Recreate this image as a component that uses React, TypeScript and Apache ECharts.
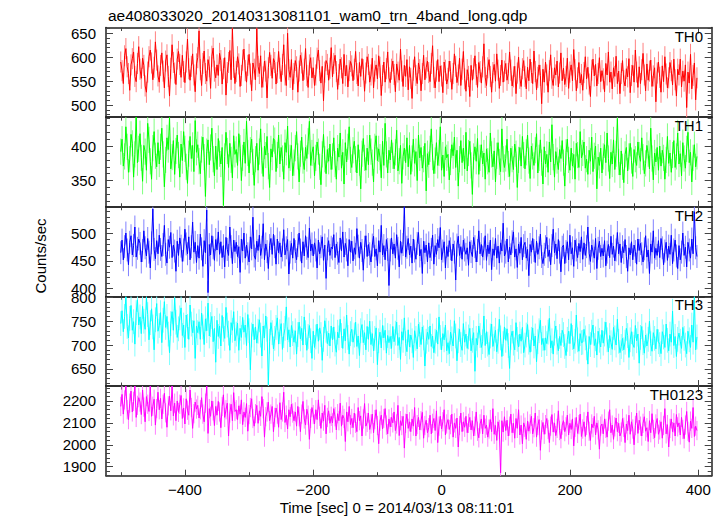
import React, { useEffect, useRef } from "react";
import * as echarts from "echarts";

// ---- text ----
const TITLE = "ae408033020_20140313081101_wam0_trn_4band_long.qdp";
const X_TITLE = "Time [sec] 0 = 2014/03/13 08:11:01";
const Y_TITLE = "Counts/sec";

// ---- time bins ----
const T_START = -500; // first bin time (sec)
const BIN = 2; // bin width (sec)

// ---- x axis ----
const X_MIN = -523;
const X_MAX = 421;
const X_MAJOR = [-400, -200, 0, 200, 400];
const X_MINOR = [-500, -300, -100, 100, 300];

// ---- panels ----
const PANEL_NAMES = ["TH0", "TH1", "TH2", "TH3", "TH0123"];
const PANEL_COLORS = ["#ff0000", "#00ff00", "#0000ff", "#00ffff", "#ff00ff"];
const PANEL_ERR_COLORS = ["#ff8080", "#80ff80", "#8080ff", "#80ffff", "#ff80ff"];
const PANEL_ERR = [22, 19, 21, 26, 44]; // typical 1-sigma error per bin (counts/sec)
const Y_MIN = [475, 312, 385, 614, 1859];
const Y_MAX = [662, 442, 549, 802, 2268];
const Y_MAJOR = [
  [500, 550, 600, 650],
  [350, 400],
  [400, 450, 500],
  [650, 700, 750, 800],
  [1900, 2000, 2100, 2200],
];
const Y_MINOR_STEP = [10, 10, 10, 10, 20];

// ---- count rates (counts/sec), one value per 2 s bin, 15 bins (30 s) per row ----
const TH0 = [
  590, 572, 545, 603, 618, 580, 566, 531, 584, 597, 611, 560, 549, 587, 622,
  575, 556, 598, 583, 540, 527, 569, 601, 615, 588, 553, 579, 632, 594, 561,
  548, 583, 609, 571, 536, 592, 605, 560, 519, 577, 626, 589, 567, 543, 596,
  612, 585, 558, 604, 570, 547, 590, 638, 576, 552, 581, 607, 563, 528, 586,
  599, 655, 574, 541, 587, 613, 566, 550, 595, 580, 535, 602, 619, 571, 557,
  584, 562, 608, 593, 544, 576, 599, 521, 568, 589, 614, 553, 660, 579, 545,
  570, 601, 586, 539, 562, 594, 617, 572, 548, 583, 606, 565, 530, 588, 575,
  553, 660, 581, 566, 603, 537, 559, 592, 571, 515, 578, 610, 583, 556, 597,
  589, 544, 568, 612, 577, 549, 585, 626, 563, 541, 650, 574, 558, 595, 532,
  566, 593, 580, 527, 571, 604, 588, 551, 575, 618, 562, 537, 584, 599, 557,
  578, 541, 563, 598, 615, 572, 546, 581, 509, 569, 593, 585, 552, 577, 620,
  559, 587, 604, 570, 533, 564, 596, 578, 545, 606, 561, 583, 538, 572, 591,
  582, 551, 575, 612, 566, 540, 589, 560, 597, 574, 529, 567, 601, 585, 548,
  563, 598, 536, 571, 584, 555, 603, 579, 520, 562, 590, 548, 576, 611, 557,
  547, 575, 592, 564, 528, 586, 569, 552, 617, 571, 539, 583, 560, 595, 532,
  580, 556, 514, 573, 601, 562, 545, 588, 574, 530, 566, 604, 553, 578, 592,
  568, 549, 587, 624, 558, 536, 571, 595, 549, 582, 561, 526, 590, 573, 544,
  556, 592, 570, 533, 566, 607, 581, 547, 563, 598, 541, 575, 612, 555, 529,
  574, 560, 518, 583, 552, 576, 603, 564, 537, 589, 570, 546, 580, 628, 558,
  541, 578, 595, 560, 527, 568, 585, 550, 607, 573, 535, 562, 594, 548, 571,
  587, 552, 566, 611, 573, 540, 559, 581, 524, 567, 600, 556, 539, 576, 593,
  560, 534, 579, 551, 596, 568, 545, 613, 570, 532, 558, 584, 562, 503, 575,
  548, 590, 563, 527, 572, 605, 556, 541, 578, 563, 592, 538, 567, 609, 551,
  577, 543, 560, 598, 535, 569, 584, 551, 616, 574, 530, 557, 589, 546, 564,
  531, 568, 601, 555, 579, 544, 518, 573, 596, 561, 585, 540, 566, 599, 549,
  572, 555, 528, 587, 563, 611, 548, 569, 534, 578, 560, 602, 545, 571, 524,
  566, 593, 551, 540, 576, 559, 597, 526, 562, 583, 548, 615, 569, 537, 580,
  545, 574, 608, 563, 530, 586, 552, 571, 594, 539, 561, 578, 507, 567, 590,
  558, 527, 582, 549, 601, 565, 536, 557, 589, 572, 542, 596, 553, 519, 575,
  563, 596, 538, 571, 550, 584, 495, 569, 546, 606, 534, 562, 588, 511, 557,
];
const TH1 = [
  392, 410, 371, 385, 428, 399, 362, 381, 417, 404, 355, 388, 442, 376, 396,
  418, 383, 349, 401, 392, 365, 433, 409, 378, 352, 397, 421, 386, 370, 405,
  374, 399, 426, 388, 341, 380, 412, 395, 442, 367, 384, 408, 359, 393, 416,
  387, 355, 403, 379, 421, 396, 370, 346, 389, 414, 382, 401, 363, 437, 391,
  402, 378, 360, 395, 413, 384, 327, 392, 409, 373, 398, 426, 381, 357, 400,
  366, 411, 389, 374, 398, 314, 385, 420, 393, 369, 404, 380, 354, 415, 388,
  395, 372, 418, 397, 350, 383, 406, 375, 436, 390, 361, 394, 410, 377, 343,
  381, 404, 365, 392, 425, 379, 356, 400, 387, 414, 371, 340, 396, 384, 411,
  408, 363, 387, 416, 374, 398, 382, 352, 405, 391, 429, 368, 383, 401, 357,
  376, 397, 421, 385, 348, 389, 413, 379, 366, 398, 382, 407, 436, 372, 390,
  399, 357, 383, 406, 392, 370, 344, 388, 417, 381, 360, 395, 378, 403, 366,
  385, 412, 374, 352, 397, 384, 419, 368, 391, 345, 405, 377, 399, 428, 380,
  369, 394, 407, 381, 361, 402, 376, 338, 389, 411, 383, 365, 397, 373, 416,
  392, 376, 348, 399, 415, 379, 396, 384, 354, 407, 372, 433, 388, 361, 394,
  380, 409, 386, 367, 391, 423, 364, 378, 401, 346, 385, 397, 376, 412, 370,
  401, 359, 382, 410, 375, 392, 350, 416, 383, 398, 368, 381, 404, 335, 389,
  373, 396, 425, 384, 360, 379, 405, 372, 390, 428, 365, 387, 356, 399, 383,
  388, 351, 377, 402, 386, 413, 369, 394, 342, 381, 408, 376, 397, 367, 420,
  364, 390, 407, 372, 330, 385, 399, 378, 411, 359, 383, 402, 374, 390, 352,
  396, 378, 362, 419, 388, 370, 393, 348, 386, 405, 377, 363, 425, 381, 369,
  382, 410, 374, 356, 397, 381, 366, 403, 389, 340, 380, 398, 371, 414, 387,
  367, 391, 416, 379, 353, 400, 385, 372, 394, 418, 361, 383, 409, 376, 345,
  399, 374, 388, 362, 406, 377, 431, 384, 355, 392, 379, 366, 395, 382, 408,
  376, 342, 391, 410, 380, 365, 397, 371, 388, 352, 404, 387, 369, 421, 383,
  390, 406, 368, 381, 359, 394, 378, 413, 363, 386, 400, 338, 384, 372, 397,
  361, 385, 402, 376, 419, 382, 353, 391, 374, 409, 366, 389, 440, 377, 358,
  393, 370, 347, 388, 398, 364, 385, 404, 379, 356, 395, 381, 372, 406, 387,
  378, 412, 384, 360, 375, 401, 389, 367, 426, 382, 351, 390, 377, 398, 365,
  400, 371, 394, 383, 352, 380, 414, 375, 390, 362, 387, 408, 369, 385, 419,
  374, 389, 357, 405, 382, 368, 396, 420, 376, 391, 348, 383, 402, 370, 385,
];
const TH2 = [
  465, 488, 452, 476, 501, 470, 443, 484, 496, 461, 478, 512, 457, 473, 490,
  482, 448, 469, 505, 474, 459, 491, 466, 437, 483, 545, 471, 454, 487, 463,
  497, 471, 458, 480, 515, 462, 446, 489, 475, 502, 456, 479, 468, 431, 486,
  460, 492, 477, 449, 470, 508, 481, 463, 494, 452, 476, 521, 466, 484, 447,
  478, 455, 499, 472, 440, 487, 465, 543, 392, 480, 461, 496, 474, 451, 489,
  470, 503, 462, 485, 456, 478, 439, 493, 471, 460, 512, 476, 445, 488, 467,
  484, 458, 476, 429, 490, 468, 501, 455, 479, 463, 448, 494, 472, 530, 459,
  453, 486, 469, 497, 460, 475, 518, 452, 481, 467, 436, 478, 491, 462, 499,
  476, 444, 490, 465, 483, 457, 470, 507, 461, 474, 489, 426, 466, 482, 455,
  491, 467, 452, 478, 501, 470, 446, 485, 459, 496, 473, 456, 510, 468, 481,
  459, 483, 470, 437, 488, 463, 476, 494, 451, 479, 418, 472, 487, 460, 475,
  472, 498, 456, 481, 464, 447, 492, 468, 503, 457, 482, 470, 441, 489, 466,
  486, 450, 474, 462, 509, 477, 455, 484, 469, 433, 475, 496, 458, 480, 463,
  448, 479, 495, 458, 472, 441, 487, 466, 515, 461, 478, 452, 489, 471, 405,
  470, 492, 463, 481, 455, 498, 473, 439, 486, 464, 480, 549, 457, 475, 491,
  461, 477, 446, 490, 468, 453, 482, 502, 459, 471, 427, 486, 465, 479, 448,
  483, 456, 471, 497, 444, 478, 462, 489, 474, 511, 452, 468, 485, 437, 476,
  458, 487, 472, 450, 481, 466, 415, 479, 495, 460, 476, 453, 488, 470, 462,
  474, 442, 485, 467, 458, 493, 476, 448, 469, 505, 463, 480, 457, 472, 496,
  451, 479, 463, 488, 434, 472, 460, 491, 455, 477, 446, 483, 468, 519, 459,
  466, 490, 448, 475, 461, 485, 503, 457, 472, 438, 481, 464, 493, 452, 478,
  484, 455, 471, 423, 480, 466, 491, 469, 447, 486, 462, 474, 499, 458, 445,
  462, 476, 493, 458, 470, 443, 478, 508, 465, 481, 454, 489, 466, 430, 475,
  479, 445, 467, 485, 452, 497, 463, 474, 440, 488, 470, 456, 482, 467, 494,
  453, 483, 460, 476, 512, 464, 449, 479, 468, 455, 491, 436, 473, 486, 458,
  473, 459, 487, 441, 466, 480, 456, 495, 462, 477, 450, 470, 502, 463, 481,
  447, 476, 465, 489, 458, 431, 474, 461, 485, 452, 479, 467, 444, 490, 469,
  482, 463, 448, 472, 496, 457, 470, 427, 481, 466, 505, 455, 473, 460, 487,
  456, 491, 474, 443, 468, 484, 451, 477, 462, 497, 445, 470, 488, 459, 436,
  478, 452, 466, 501, 460, 475, 439, 484, 470, 455, 490, 463, 540, 474, 458,
];
const TH3 = [
  745, 772, 728, 760, 801, 739, 715, 756, 783, 731, 749, 702, 768, 795, 742,
  759, 724, 781, 750, 733, 800, 764, 711, 747, 776, 738, 690, 753, 787, 729,
  741, 768, 705, 752, 791, 737, 760, 723, 684, 745, 770, 731, 799, 748, 716,
  734, 757, 778, 720, 742, 695, 763, 739, 712, 784, 744, 726, 751, 672, 740,
  726, 749, 712, 767, 738, 701, 755, 730, 788, 719, 743, 760, 707, 735, 664,
  752, 718, 740, 698, 762, 733, 714, 779, 742, 725, 689, 747, 731, 770, 709,
  723, 746, 689, 735, 716, 758, 727, 742, 699, 764, 730, 648, 721, 744, 711,
  738, 704, 729, 753, 721, 677, 740, 715, 761, 733, 617, 708, 747, 726, 692,
  714, 737, 757, 702, 728, 745, 691, 720, 735, 780, 711, 732, 696, 741, 724,
  706, 730, 681, 722, 748, 713, 735, 700, 759, 726, 689, 718, 741, 709, 672,
  729, 695, 717, 744, 708, 736, 722, 668, 712, 751, 731, 703, 725, 698, 740,
  711, 738, 702, 685, 727, 715, 754, 720, 693, 734, 709, 763, 716, 681, 724,
  733, 706, 721, 748, 697, 719, 678, 730, 743, 705, 726, 690, 739, 712, 750,
  701, 724, 688, 714, 736, 659, 709, 727, 694, 741, 715, 731, 683, 720, 705,
  718, 693, 739, 707, 725, 748, 699, 716, 670, 728, 710, 757, 703, 686, 732,
  696, 721, 709, 674, 730, 714, 692, 744, 722, 701, 738, 715, 656, 708, 727,
  712, 740, 697, 719, 684, 708, 731, 702, 759, 716, 690, 724, 711, 742, 688,
  705, 682, 727, 713, 698, 751, 719, 667, 709, 733, 701, 689, 745, 706, 723,
  693, 717, 735, 688, 710, 726, 645, 714, 700, 740, 720, 695, 707, 761, 699,
  728, 702, 680, 719, 744, 697, 713, 731, 686, 708, 754, 715, 676, 703, 738,
  710, 734, 699, 651, 716, 729, 704, 690, 747, 712, 696, 723, 708, 737, 684,
  700, 721, 743, 706, 685, 712, 736, 698, 719, 665, 707, 730, 752, 701, 714,
  689, 715, 703, 727, 756, 694, 709, 681, 725, 740, 706, 688, 718, 699, 731,
  722, 697, 678, 712, 729, 703, 745, 716, 692, 708, 763, 711, 687, 724, 705,
  706, 733, 715, 694, 660, 718, 701, 727, 742, 699, 713, 679, 729, 710, 696,
  731, 704, 723, 748, 711, 686, 720, 705, 691, 737, 715, 700, 754, 708, 684,
  697, 714, 690, 706, 735, 720, 674, 711, 728, 702, 695, 741, 709, 723, 662,
  716, 739, 705, 683, 721, 698, 712, 750, 703, 687, 726, 714, 692, 733, 707,
  701, 682, 728, 717, 695, 744, 710, 688, 723, 706, 771, 699, 718, 676, 712,
  725, 708, 693, 737, 714, 700, 682, 729, 711, 695, 742, 706, 800, 690, 717,
];
const TH0123 = [
  2175, 2230, 2140, 2205, 2268, 2160, 2115, 2190, 2245, 2150, 2198, 2268, 2125, 2180, 2215,
  2195, 2138, 2250, 2172, 2105, 2220, 2185, 2152, 2268, 2130, 2176, 2208, 2090, 2165, 2240,
  2160, 2212, 2118, 2185, 2235, 2146, 2080, 2178, 2222, 2155, 2268, 2132, 2190, 2110, 2200,
  2148, 2185, 2225, 2120, 2168, 2095, 2210, 2158, 2135, 2250, 2170, 2075, 2142, 2195, 2163,
  2180, 2122, 2160, 2215, 2140, 2105, 2190, 2268, 2052, 2165, 2130, 2200, 2155, 2088, 2175,
  2135, 2198, 2150, 2078, 2175, 2228, 2125, 2160, 2190, 2040, 2145, 2185, 2110, 2238, 2152,
  2160, 2115, 2178, 2140, 2205, 2092, 2150, 2125, 2188, 2062, 2138, 2170, 2210, 2120, 2085,
  2142, 2180, 2098, 2155, 2130, 2220, 2165, 2035, 2128, 2150, 2195, 2110, 2140, 2175, 2060,
  2125, 2168, 2140, 2080, 2192, 2115, 2150, 2240, 2102, 2135, 2072, 2160, 2128, 2185, 2145,
  2110, 2150, 2085, 2175, 2128, 2060, 2140, 2198, 2118, 2090, 2162, 2135, 2025, 2120, 2170,
  2138, 2095, 2160, 2115, 2205, 2130, 2075, 2145, 2108, 2180, 2050, 2125, 2155, 2098, 2130,
  2100, 2165, 2128, 2068, 2142, 2110, 2190, 2085, 2135, 2120, 2015, 2150, 2105, 2175, 2092,
  2120, 2078, 2145, 2098, 2060, 2170, 2110, 2132, 2040, 2118, 2188, 2085, 2102, 2145, 2070,
  2095, 2140, 2055, 2115, 2160, 2088, 2005, 2108, 2135, 2072, 2120, 2165, 2090, 2050, 2118,
  2082, 2125, 2100, 2150, 2065, 2095, 2180, 2042, 2110, 2088, 2130, 1985, 2098, 2140, 2075,
  2105, 2060, 2118, 2085, 2170, 2040, 2092, 2125, 2068, 2110, 2148, 2030, 2088, 2112, 2055,
  2078, 2135, 2050, 2098, 2120, 2065, 2155, 2010, 2085, 2130, 2072, 2105, 2160, 2045, 2095,
  2115, 2070, 2092, 2140, 2035, 2100, 2075, 2122, 1990, 2088, 2145, 2060, 2105, 2080, 2130,
  2055, 2098, 2125, 2068, 2110, 2040, 2085, 2150, 2062, 2032, 2095, 2118, 2050, 2135, 2075,
  2090, 2035, 2072, 2115, 2060, 2165, 2048, 2088, 2020, 2105, 2070, 1872, 2110, 2058, 2128,
  2065, 2112, 2040, 2085, 2140, 2055, 2098, 2030, 2120, 2075, 2160, 2045, 2090, 2005, 2100,
  2080, 2025, 2108, 2062, 2095, 2130, 2050, 2078, 2145, 2035, 2088, 2115, 1975, 2068, 2102,
  2048, 2092, 2120, 2070, 2010, 2085, 2138, 2058, 2100, 2042, 2075, 2155, 2065, 2028, 2090,
  2110, 2060, 2082, 2135, 2045, 2098, 2070, 2118, 1995, 2080, 2125, 2052, 2092, 2140, 2038,
  2072, 2105, 2038, 2088, 2150, 2062, 2020, 2095, 2078, 2130, 2045, 2100, 2068, 1980, 2085,
  2095, 2050, 2118, 2075, 2035, 2108, 2160, 2055, 2090, 2025, 2082, 2122, 2060, 2098, 2040,
  2058, 2120, 2080, 2010, 2095, 2065, 2135, 2048, 2105, 2072, 2000, 2088, 2145, 2052, 2112,
  2085, 2040, 2098, 2128, 2062, 2078, 2015, 2110, 2055, 2142, 2070, 2032, 2095, 2120, 2048,
  2068, 2105, 2030, 2088, 2165, 2050, 2092, 1990, 2075, 2118, 2060, 2100, 2040, 2138, 2082,
  2100, 2045, 2125, 2070, 2028, 2090, 2152, 2062, 2012, 2108, 2075, 2170, 2038, 2085, 2065,
];
const PANEL_DATA = [TH0, TH1, TH2, TH3, TH0123];

const FONT = "'Liberation Sans', Arial, Helvetica, sans-serif";

function minorTicks(min: number, max: number, step: number, majors: number[]) {
  const out: number[] = [];
  for (let v = Math.ceil(min / step) * step; v <= max; v += step) {
    if (!majors.includes(v)) out.push(v);
  }
  return out;
}

function buildOption() {
  const GRID_TOP = 27.5;
  const GRID_H = 89.64;
  const LEFT = 106;
  const RIGHT = 12.3;
  const axisColor = "#222";
  const tickColor = "#444";

  const grids: any[] = [];
  const xAxes: any[] = [];
  const yAxes: any[] = [];
  const series: any[] = [];
  const graphics: any[] = [];

  const xAxis = (gi: number, pos: string, ticks: number[], len: number, line: boolean, labels: boolean) => ({
    type: "value",
    gridIndex: gi,
    position: pos,
    min: X_MIN,
    max: X_MAX,
    axisLine: { show: line, onZero: false, lineStyle: { color: axisColor, width: 1.5 } },
    axisTick: { show: true, inside: true, length: len, customValues: ticks, lineStyle: { color: tickColor, width: 1 } },
    axisLabel: {
      show: labels,
      customValues: ticks,
      margin: 6,
      color: "#000",
      fontSize: 15,
      fontFamily: FONT,
      formatter: (v: number) => String(v).replace("-", "\u2212"),
    },
    splitLine: { show: false },
  });

  const yAxis = (gi: number, pos: string, ticks: number[], len: number, line: boolean, labels: boolean) => ({
    type: "value",
    gridIndex: gi,
    position: pos,
    min: Y_MIN[gi],
    max: Y_MAX[gi],
    axisLine: { show: line, onZero: false, lineStyle: { color: axisColor, width: 1.5 } },
    axisTick: { show: true, inside: true, length: len, customValues: ticks, lineStyle: { color: tickColor, width: 1 } },
    axisLabel: {
      show: labels,
      customValues: ticks,
      margin: 10,
      color: "#000",
      fontSize: 15,
      fontFamily: FONT,
      formatter: (v: number) => String(v),
    },
    splitLine: { show: false },
  });

  PANEL_NAMES.forEach((name, i) => {
    const top = GRID_TOP + i * GRID_H;
    grids.push({ left: LEFT, right: RIGHT, top, height: GRID_H, outerBoundsMode: "none", containLabel: false });

    const last = i === PANEL_NAMES.length - 1;
    xAxes.push(xAxis(i, "bottom", X_MAJOR, 6, true, last));
    xAxes.push(xAxis(i, "bottom", X_MINOR, 3.5, false, false));
    xAxes.push(xAxis(i, "top", X_MAJOR, 6, true, false));
    xAxes.push(xAxis(i, "top", X_MINOR, 3.5, false, false));

    const majors = Y_MAJOR[i];
    const minors = minorTicks(Y_MIN[i], Y_MAX[i], Y_MINOR_STEP[i], majors);
    yAxes.push(yAxis(i, "left", majors, 7, true, true));
    yAxes.push(yAxis(i, "left", minors, 4, false, false));
    yAxes.push(yAxis(i, "right", majors, 7, true, false));
    yAxes.push(yAxis(i, "right", minors, 4, false, false));

    const data = PANEL_DATA[i].map((v, k) => [T_START + k * BIN, v]);
    const err = PANEL_ERR[i];
    const errColor = PANEL_ERR_COLORS[i];
    // error bars (lighter shade)
    series.push({
      type: "custom",
      xAxisIndex: i * 4,
      yAxisIndex: i * 4,
      data,
      clip: true,
      silent: true,
      z: 2,
      renderItem: (params: any, api: any) => {
        const t = api.value(0);
        const v = api.value(1);
        const p1 = api.coord([t, v - err]);
        const p2 = api.coord([t, v + err]);
        return {
          type: "line",
          shape: { x1: p1[0], y1: p1[1], x2: p2[0], y2: p2[1] },
          style: { stroke: errColor, lineWidth: 1 },
        };
      },
    });
    series.push({
      type: "line",
      xAxisIndex: i * 4,
      yAxisIndex: i * 4,
      data,
      symbol: "none",
      clip: true,
      silent: true,
      lineStyle: { color: PANEL_COLORS[i], width: 1 },
      z: 3,
    });

    graphics.push({
      type: "text",
      right: 724 - 703,
      top: top + 1,
      z: 10,
      style: { text: name, fontSize: 15, fontFamily: FONT, fill: "#000" },
    });
  });

  graphics.push({
    type: "text",
    left: 108,
    top: 7,
    style: { text: TITLE, fontSize: 15.5, fontFamily: FONT, fill: "#000" },
  });
  graphics.push({
    type: "text",
    x: 397,
    y: 507,
    style: { text: X_TITLE, fontSize: 15, fontFamily: FONT, fill: "#000", align: "center", verticalAlign: "middle" },
  });
  graphics.push({
    type: "text",
    x: 40,
    y: 256,
    rotation: Math.PI / 2,
    style: { text: Y_TITLE, fontSize: 15, fontFamily: FONT, fill: "#000", align: "center", verticalAlign: "middle" },
  });

  return {
    animation: false,
    backgroundColor: "#fff",
    grid: grids,
    xAxis: xAxes,
    yAxis: yAxes,
    series,
    graphic: graphics,
  };
}

export default function App() {
  const ref = useRef<HTMLDivElement>(null);
  useEffect(() => {
    if (!ref.current) return;
    const chart = echarts.init(ref.current, undefined, { renderer: "svg" });
    chart.setOption(buildOption() as any);
    return () => chart.dispose();
  }, []);
  return (
    <div
      ref={ref}
      style={{ position: "absolute", left: 0, top: 0, width: 724, height: 516 }}
    />
  );
}
